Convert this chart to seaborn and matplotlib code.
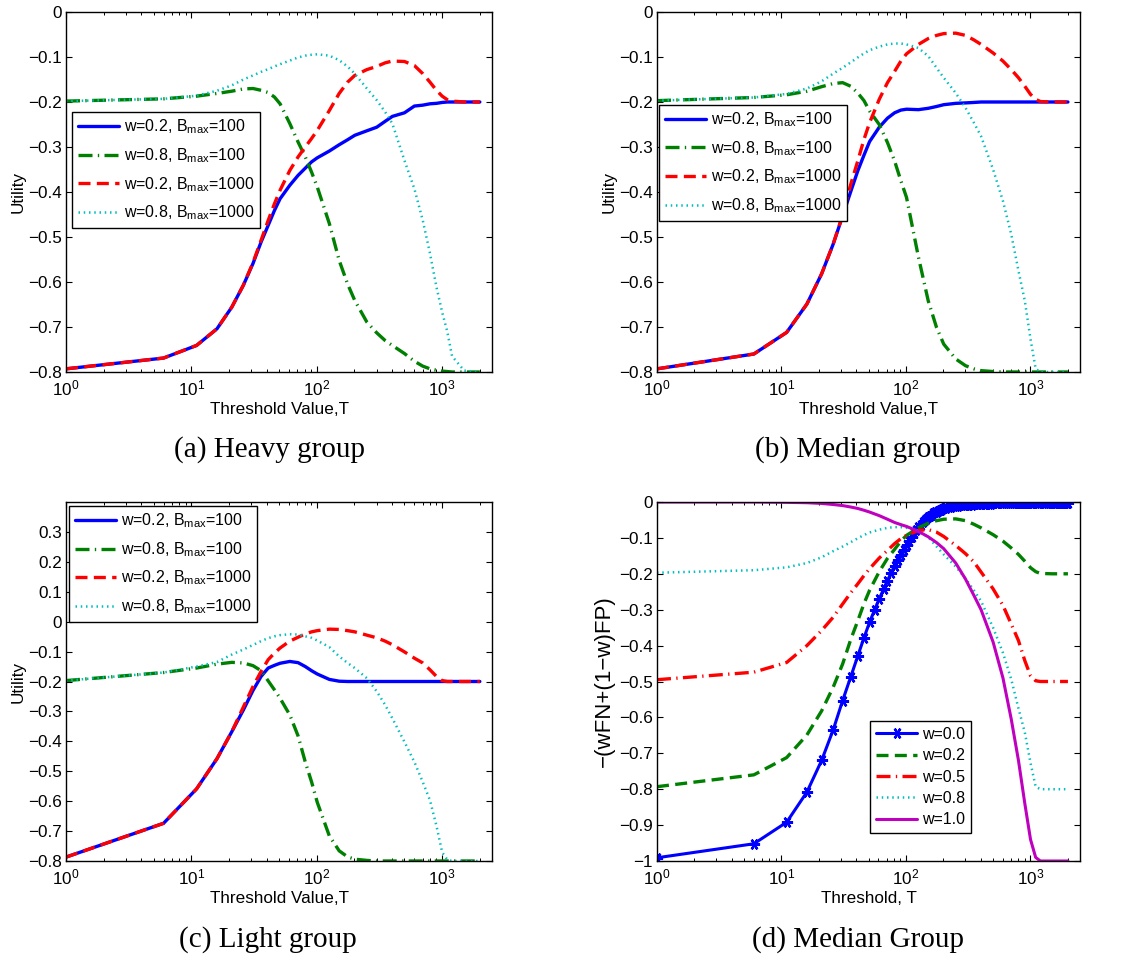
import matplotlib
matplotlib.use("Agg")
import matplotlib.pyplot as plt
import seaborn as sns
from matplotlib.ticker import FuncFormatter, FixedLocator, LogLocator, NullFormatter

# ---------------- data ----------------
T = [1, 6, 11, 16, 21, 26, 31, 36, 41, 46, 51, 61, 71, 81, 91, 101, 126, 151, 176, 201,
     251, 301, 351, 401, 501, 601, 701, 801, 901, 1001, 1101, 1201, 1501, 2000]

# (a) Heavy group
a_w02_B100 = [-0.793, -0.769, -0.741, -0.704, -0.656, -0.607, -0.559, -0.511, -0.474, -0.441,
              -0.415, -0.385, -0.363, -0.347, -0.333, -0.324, -0.309, -0.295, -0.284, -0.274,
              -0.264, -0.256, -0.243, -0.232, -0.224, -0.209, -0.207, -0.204, -0.203, -0.201,
              -0.200, -0.200, -0.200, -0.200]
a_w08_B100 = [-0.198, -0.193, -0.187, -0.181, -0.176, -0.171, -0.170, -0.174, -0.179, -0.189,
              -0.204, -0.248, -0.289, -0.322, -0.356, -0.389, -0.470, -0.552, -0.604, -0.641,
              -0.689, -0.713, -0.730, -0.741, -0.759, -0.776, -0.787, -0.793, -0.796, -0.798,
              -0.799, -0.800, -0.800, -0.800]
a_w02_B1000 = [-0.793, -0.769, -0.741, -0.704, -0.656, -0.607, -0.557, -0.507, -0.463, -0.426,
               -0.396, -0.352, -0.322, -0.300, -0.281, -0.263, -0.219, -0.181, -0.156, -0.141,
               -0.128, -0.121, -0.113, -0.109, -0.110, -0.119, -0.137, -0.156, -0.174, -0.187,
               -0.195, -0.198, -0.200, -0.200]
a_w08_B1000 = [-0.198, -0.193, -0.186, -0.175, -0.163, -0.150, -0.141, -0.133, -0.127, -0.121,
               -0.116, -0.108, -0.101, -0.097, -0.095, -0.094, -0.097, -0.107, -0.121, -0.137,
               -0.170, -0.196, -0.222, -0.248, -0.330, -0.393, -0.463, -0.537, -0.611, -0.667,
               -0.711, -0.765, -0.797, -0.800]

# (b) Median group
b_w02_B100 = [-0.793, -0.760, -0.712, -0.649, -0.582, -0.516, -0.453, -0.399, -0.353, -0.318,
              -0.288, -0.256, -0.236, -0.224, -0.218, -0.216, -0.217, -0.214, -0.210, -0.206,
              -0.203, -0.202, -0.201, -0.200, -0.200, -0.200, -0.200, -0.200, -0.200, -0.200,
              -0.200, -0.200, -0.200, -0.200]
b_w08_B100 = [-0.197, -0.190, -0.184, -0.176, -0.166, -0.159, -0.157, -0.165, -0.180, -0.197,
              -0.220, -0.250, -0.290, -0.331, -0.375, -0.412, -0.545, -0.642, -0.701, -0.738,
              -0.771, -0.786, -0.793, -0.797, -0.799, -0.800, -0.800, -0.800, -0.800, -0.800,
              -0.800, -0.800, -0.800, -0.800]
b_w02_B1000 = [-0.793, -0.760, -0.712, -0.649, -0.582, -0.516, -0.451, -0.383, -0.331, -0.283,
               -0.246, -0.194, -0.157, -0.132, -0.109, -0.093, -0.072, -0.059, -0.052, -0.048,
               -0.047, -0.052, -0.062, -0.072, -0.091, -0.109, -0.128, -0.146, -0.165, -0.183,
               -0.194, -0.199, -0.200, -0.200]
b_w08_B1000 = [-0.197, -0.190, -0.182, -0.170, -0.154, -0.137, -0.124, -0.112, -0.101, -0.092,
               -0.085, -0.077, -0.072, -0.070, -0.070, -0.072, -0.080, -0.098, -0.124, -0.146,
               -0.180, -0.213, -0.246, -0.276, -0.350, -0.420, -0.494, -0.575, -0.642, -0.727,
               -0.793, -0.800, -0.800, -0.800]

# (c) Light group
c_w02_B100 = [-0.787, -0.674, -0.559, -0.458, -0.368, -0.295, -0.230, -0.183, -0.155, -0.146,
              -0.139, -0.133, -0.137, -0.150, -0.164, -0.175, -0.193, -0.199, -0.200, -0.200,
              -0.200, -0.200, -0.200, -0.200, -0.200, -0.200, -0.200, -0.200, -0.200, -0.200,
              -0.200, -0.200, -0.200, -0.200]
c_w08_B100 = [-0.197, -0.170, -0.155, -0.142, -0.136, -0.138, -0.147, -0.164, -0.198, -0.228,
              -0.256, -0.312, -0.382, -0.469, -0.536, -0.604, -0.716, -0.766, -0.786, -0.794,
              -0.798, -0.800, -0.800, -0.800, -0.800, -0.800, -0.800, -0.800, -0.800, -0.800,
              -0.800, -0.800, -0.800, -0.800]
c_w02_B1000 = [-0.787, -0.674, -0.559, -0.458, -0.368, -0.285, -0.217, -0.166, -0.127, -0.105,
               -0.088, -0.065, -0.052, -0.041, -0.034, -0.030, -0.025, -0.026, -0.030, -0.034,
               -0.045, -0.054, -0.065, -0.077, -0.101, -0.122, -0.138, -0.161, -0.183, -0.197,
               -0.200, -0.200, -0.200, -0.200]
c_w08_B1000 = [-0.197, -0.170, -0.150, -0.135, -0.110, -0.093, -0.078, -0.065, -0.055, -0.049,
               -0.045, -0.042, -0.043, -0.049, -0.054, -0.063, -0.085, -0.116, -0.138, -0.155,
               -0.189, -0.233, -0.278, -0.323, -0.402, -0.469, -0.536, -0.598, -0.682, -0.771,
               -0.796, -0.800, -0.800, -0.800]

# (d) Median Group, -(wFN+(1-w)FP)
T_w00 = [1, 6, 11, 16, 21, 26, 31, 36, 41, 46, 51, 56, 61, 66, 71, 76, 81, 86, 91, 96,
         101, 106, 111, 116, 121, 126, 131, 136, 141, 146, 151, 156, 161, 166, 171, 176,
         181, 186, 191, 196, 201, 211, 221, 231, 241, 251, 261, 271, 281, 291, 301,
         321, 341, 361, 381, 401, 421, 441, 461, 481, 501,
         526, 551, 576, 601, 626, 651, 676, 701, 726, 751, 776, 801, 826, 851, 876, 901,
         926, 951, 976, 1001, 1051, 1101, 1151, 1201, 1251, 1301, 1351, 1401, 1451, 1501,
         1551, 1601, 1651, 1701, 1751, 1801, 1851, 1901, 1951, 1996]
d_w00 = [-0.991, -0.952, -0.892, -0.808, -0.720, -0.635, -0.553, -0.487, -0.429, -0.378,
         -0.335, -0.300, -0.270, -0.243, -0.219, -0.197, -0.178, -0.162, -0.147, -0.133,
         -0.120, -0.108, -0.097, -0.087, -0.078, -0.070, -0.063, -0.057, -0.051, -0.046,
         -0.042, -0.038, -0.035, -0.032, -0.029, -0.027, -0.025, -0.023, -0.021, -0.020,
         -0.018, -0.016, -0.014, -0.013, -0.012, -0.011, -0.010, -0.009, -0.009, -0.008,
         -0.008, -0.007, -0.007, -0.006, -0.006, -0.006, -0.005, -0.005, -0.005, -0.005,
         -0.004, -0.004, -0.004, -0.004, -0.004, -0.004, -0.004, -0.004, -0.004, -0.003,
         -0.003, -0.003, -0.003, -0.003, -0.003, -0.003, -0.003, -0.003, -0.003, -0.003,
         -0.003, -0.003, -0.003, -0.003, -0.003, -0.003, -0.002, -0.002, -0.002, -0.002,
         -0.002, -0.002, -0.002, -0.002, -0.002, -0.002, -0.002, -0.002, -0.002, -0.002,
         -0.002]
d_w02 = [-0.793, -0.760, -0.712, -0.649, -0.582, -0.516, -0.451, -0.383, -0.331, -0.283,
         -0.246, -0.194, -0.157, -0.132, -0.109, -0.093, -0.072, -0.059, -0.052, -0.048,
         -0.047, -0.052, -0.062, -0.072, -0.091, -0.109, -0.128, -0.146, -0.165, -0.183,
         -0.194, -0.199, -0.200, -0.200]
d_w05 = [-0.495, -0.474, -0.447, -0.400, -0.358, -0.321, -0.284, -0.253, -0.228, -0.205,
         -0.186, -0.156, -0.135, -0.116, -0.102, -0.093, -0.079, -0.077, -0.084, -0.096,
         -0.121, -0.144, -0.167, -0.195, -0.242, -0.288, -0.340, -0.386, -0.442, -0.484,
         -0.498, -0.500, -0.500, -0.500]
d_w08 = [-0.197, -0.190, -0.182, -0.170, -0.154, -0.137, -0.124, -0.112, -0.101, -0.092,
         -0.085, -0.077, -0.072, -0.070, -0.070, -0.072, -0.080, -0.098, -0.124, -0.146,
         -0.180, -0.213, -0.246, -0.276, -0.350, -0.420, -0.494, -0.575, -0.642, -0.727,
         -0.793, -0.800, -0.800, -0.800]
d_w10 = [0.000, 0.000, -0.001, -0.002, -0.004, -0.007, -0.010, -0.014, -0.018, -0.023,
         -0.028, -0.038, -0.048, -0.057, -0.063, -0.068, -0.082, -0.097, -0.113, -0.130,
         -0.170, -0.215, -0.260, -0.300, -0.390, -0.490, -0.605, -0.720, -0.840, -0.940,
         -0.990, -1.000, -1.000, -1.000]

labels_abc = [r"w=0.2, $\mathrm{B}_{\mathrm{max}}$=100",
              r"w=0.8, $\mathrm{B}_{\mathrm{max}}$=100",
              r"w=0.2, $\mathrm{B}_{\mathrm{max}}$=1000",
              r"w=0.8, $\mathrm{B}_{\mathrm{max}}$=1000"]
labels_d = ["w=0.0", "w=0.2", "w=0.5", "w=0.8", "w=1.0"]
captions = ["(a) Heavy group", "(b) Median group", "(c) Light group", "(d) Median Group"]

# ---------------- style ----------------
FS = 12.3
sns.set_theme(style="ticks")
plt.rcParams.update({
    "font.family": ["Liberation Sans", "DejaVu Sans"],
    "mathtext.fontset": "custom",
    "mathtext.rm": "Liberation Sans",
    "mathtext.it": "Liberation Sans:italic",
    "mathtext.bf": "Liberation Sans:bold",
    "axes.linewidth": 1.0,
    "axes.edgecolor": "black",
    "xtick.direction": "in", "ytick.direction": "in",
    "xtick.top": True, "ytick.right": True,
    "xtick.major.size": 4.5, "ytick.major.size": 4.5,
    "xtick.minor.size": 2.5, "ytick.minor.size": 2.5,
    "xtick.major.width": 0.8, "ytick.major.width": 0.8,
    "xtick.minor.width": 0.7, "ytick.minor.width": 0.7,
    "xtick.color": "black", "ytick.color": "black",
    "xtick.labelsize": FS, "ytick.labelsize": FS,
    "xtick.major.pad": 5, "ytick.major.pad": 3,
    "axes.facecolor": "white", "figure.facecolor": "white",
    "text.color": "black", "axes.labelcolor": "black",
})

BLUE = (0, 0, 1)
GREEN = (0, 0.5, 0)
RED = (1, 0, 0)
CYAN = (0, 0.75, 0.75)
MAGENTA = (0.75, 0, 0.75)

S_SOLID = "-"
S_DASHDOT = (0, (4.2, 1.6, 0.4, 1.6))
S_DASH = (0, (3.6, 1.9))
S_DOT = (0, (0.6, 1.5))

fig = plt.figure(figsize=(11.24, 9.6), dpi=100)
W, H = 1124, 960


def make_ax(left, top, right, bottom):
    return fig.add_axes([left / W, 1 - bottom / H, (right - left) / W, (bottom - top) / H])


def yfmt(v, _):
    s = "%g" % round(v, 2)
    if s == "-0":
        s = "0"
    return s.replace("-", "\u2212")


def style_ax(ax, ylim, yticks, xlabel, ylabel, ylabsize=FS, ylabpad=2):
    ax.set_xscale("log")
    ax.set_xlim(1, 2500)
    ax.set_ylim(*ylim)
    ax.yaxis.set_major_locator(FixedLocator(yticks))
    ax.yaxis.set_major_formatter(FuncFormatter(yfmt))
    ax.xaxis.set_major_locator(LogLocator(base=10, numticks=10))
    ax.xaxis.set_minor_locator(LogLocator(base=10, subs=range(2, 10), numticks=20))
    ax.xaxis.set_minor_formatter(NullFormatter())
    ax.set_xlabel(xlabel, fontsize=FS, labelpad=2)
    ax.set_ylabel(ylabel, fontsize=ylabsize, labelpad=ylabpad)
    for sp in ax.spines.values():
        sp.set_visible(True)
        sp.set_linewidth(1.0)
        sp.set_color("black")


def draw_four(ax, ys):
    specs = [(BLUE, S_SOLID, 2.4), (GREEN, S_DASHDOT, 2.4), (RED, S_DASH, 2.4), (CYAN, S_DOT, 1.8)]
    for (c, ls, lw), y, lab in zip(specs, ys, labels_abc):
        sns.lineplot(x=T, y=y, ax=ax, color=c, linestyle=ls, linewidth=lw, label=lab,
                     errorbar=None, sort=False)


def legend(ax, loc, anchor, **kw):
    lg = ax.legend(loc=loc, bbox_to_anchor=anchor, borderaxespad=0, fontsize=11.5,
                   frameon=True, fancybox=False, shadow=False, framealpha=1,
                   edgecolor="black", handlelength=2.6, handletextpad=0.3,
                   borderpad=0.35, **kw)
    lg.get_frame().set_linewidth(1.0)
    return lg


ticks_08 = [-0.8, -0.7, -0.6, -0.5, -0.4, -0.3, -0.2, -0.1, 0.0]
ticks_c = [-0.8, -0.7, -0.6, -0.5, -0.4, -0.3, -0.2, -0.1, 0.0, 0.1, 0.2, 0.3]
ticks_d = [-1.0, -0.9, -0.8, -0.7, -0.6, -0.5, -0.4, -0.3, -0.2, -0.1, 0.0]

# (a)
ax_a = make_ax(66, 12, 492, 372)
ax_a.set_xscale("log")
draw_four(ax_a, [a_w02_B100, a_w08_B100, a_w02_B1000, a_w08_B1000])
style_ax(ax_a, (-0.8, 0), ticks_08, "Threshold Value,T", "Utility")
legend(ax_a, "upper left", (0.014, 0.722), labelspacing=0.62)

# (b)
ax_b = make_ax(657, 12, 1080, 372)
ax_b.set_xscale("log")
draw_four(ax_b, [b_w02_B100, b_w08_B100, b_w02_B1000, b_w08_B1000])
style_ax(ax_b, (-0.8, 0), ticks_08, "Threshold Value,T", "Utility")
legend(ax_b, "upper left", (0.005, 0.742), labelspacing=0.62)

# (c)
ax_c = make_ax(66, 502, 492, 861)
ax_c.set_xscale("log")
draw_four(ax_c, [c_w02_B100, c_w08_B100, c_w02_B1000, c_w08_B1000])
style_ax(ax_c, (-0.8, 0.4), ticks_c, "Threshold Value,T", "Utility")
legend(ax_c, "upper left", (0.007, 0.989), labelspacing=0.62)

# (d)
ax_d = make_ax(657, 502, 1080, 861)
ax_d.set_xscale("log")
sns.lineplot(x=T_w00, y=d_w00, ax=ax_d, color=BLUE, linestyle="-", linewidth=2.2,
             marker=(6, 2, 90), markersize=8, markeredgewidth=1.7,
             markeredgecolor=BLUE, markerfacecolor=BLUE, label=labels_d[0],
             errorbar=None, sort=False)
for c, ls, lw, y, lab in [(GREEN, S_DASH, 2.4, d_w02, labels_d[1]),
                          (RED, S_DASHDOT, 2.4, d_w05, labels_d[2]),
                          (CYAN, S_DOT, 1.8, d_w08, labels_d[3]),
                          (MAGENTA, S_SOLID, 2.2, d_w10, labels_d[4])]:
    sns.lineplot(x=T, y=y, ax=ax_d, color=c, linestyle=ls, linewidth=lw, label=lab,
                 errorbar=None, sort=False)
style_ax(ax_d, (-1.0, 0), ticks_d, "Threshold, T", "\u2212(wFN+(1\u2212w)FP)",
         ylabsize=16, ylabpad=3)
legend(ax_d, "lower right", (0.742, 0.078), labelspacing=0.4)

# captions
for (x, y), cap in zip([(270, 450), (858, 450), (268, 940), (858, 940)], captions):
    fig.text(x / W, 1 - y / H, cap, ha="center", va="center",
             fontsize=21, family=["Liberation Serif", "DejaVu Serif"])

fig.savefig("out.png", dpi=100, facecolor="white")
